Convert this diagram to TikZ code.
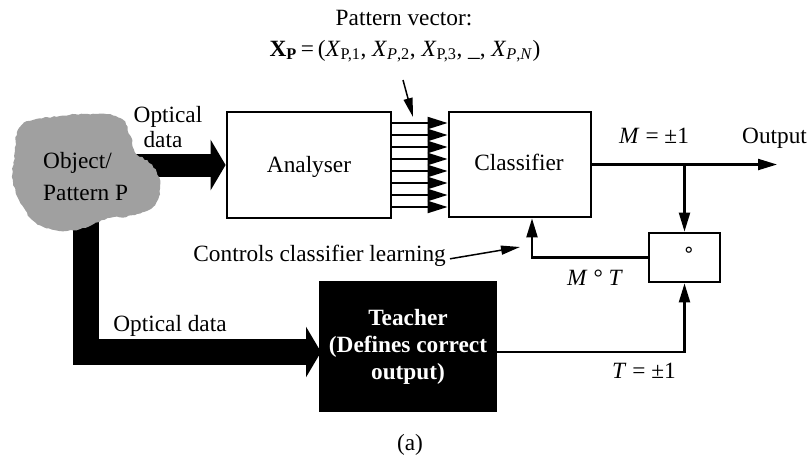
\documentclass[tikz,border=0pt]{standalone}
\usepackage{fontspec}
\setmainfont{Liberation Serif}
\newfontfamily\symfont{DejaVu Sans}
\usetikzlibrary{arrows.meta,decorations.pathmorphing,calc}
\definecolor{blobgray}{RGB}{160,160,160}

\begin{document}
\begin{tikzpicture}[x=1pt,y=-1pt,
  every node/.style={inner sep=0pt,font=\fontsize{23.3pt}{27pt}\selectfont},
  box/.style={draw,line width=2.8pt},
  link/.style={line width=2.2pt,-{Triangle[length=19pt,width=11pt]}},
  slim/.style={line width=1.5pt,-{Triangle[length=19pt,width=9pt]}},
  fat/.style={line join=miter,-{Triangle[length=15pt,width=50pt]}}]
\useasboundingbox (0,0) rectangle (811,459);

% blocks
\node[box,minimum width=164pt,minimum height=106pt] (ana) at (309,165) {};
\node[anchor=base] at (309,172) {Analyser};
\node[box,minimum width=142pt,minimum height=105pt] (cls) at (520,164.5) {};
\node[anchor=base] at (519,170) {Classifier};
\node[box,minimum width=71pt,minimum height=49pt] (op) at (684.5,257.5) {};
\node[font=\symfont\fontsize{20pt}{20pt}\selectfont] (opsym) at (689,252) {∘};
\node[fill=black,minimum width=178pt,minimum height=131pt,text=white,align=center,
      font=\fontsize{23.3pt}{27pt}\selectfont\bfseries] (teach) at (408,346.5)
      {Teacher\\(Defines correct\\output)};

% object / pattern
\coordinate (blobR) at (120,165);
\coordinate (blobB) at (86,205);
\coordinate (teachIn) at (321,352);
\draw[fat,line width=23pt] (blobR) -- (ana.west);
\draw[fat,line width=26pt] (blobB) |- (teachIn);
\pgfmathsetseed{7}
\fill[blobgray,decorate,decoration={random steps,segment length=3pt,amplitude=0.8pt}]
  plot[smooth cycle,tension=0.65] coordinates {
  (30,121) (60,116) (95,114) (120,118) (130,135) (135,152) (152,165) (160,185)
  (155,205) (135,215) (110,218) (99,222) (80,229) (55,230) (35,222) (22,205)
  (13,180) (15,150) (18,130)};
\node[anchor=base west] (obj1) at (43,168) {Object/};
\node[anchor=base west] (obj2) at (43,200) {Pattern P};
\node[anchor=base] (opt1) at (168,122) {Optical};
\node[anchor=base] (opt2) at (163,147) {data};
\node[anchor=base] (opt3) at (170,331) {Optical data};

% pattern vector bus
\foreach \k in {0,...,7}{
  \draw[line width=2pt,-{Triangle[length=20pt,width=12pt]}]
    (ana.east |- 0,123+12*\k) -- (cls.west |- 0,123+12*\k);
}
\node[anchor=base] (pv1) at (404,25) {Pattern vector:};
\node[anchor=base] (pv2) at (405,56)
  {\textbf{X}\textsubscript{\textbf{P}}\,=\,(\textit{X}\textsubscript{P,1}, \textit{X}\textsubscript{\textit{P},2}, \textit{X}\textsubscript{P,3}, \_, \textit{X}\textsubscript{\textit{P},\textit{N}})};
\coordinate (pvTail) at (403,80);
\coordinate (pvTip) at (413,117);
\draw[slim] (pvTail) -- (pvTip);

% output and comparison loop
\coordinate (outTip) at (777,164.5);
\draw[link] (cls.east) -- (outTip);
\node[anchor=base west] (outlbl) at (742,143) {Output};
\node[anchor=base west] (mlbl) at (619,143) {\textit{M} = ±1};
\draw[link] (op.north |- cls.east) -- (op.north);
\coordinate (fbTip) at ($(cls.south)+(12,0)$);
\draw[link] (op.west) -| (fbTip);
\node[anchor=base west] (mtlbl) at (567,285) {\textit{M} ° \textit{T}};
\coordinate (tOut) at (teach.east |- 0,352);
\draw[link] (tOut) -| (op.south);
\node[anchor=base west] (tlbl) at (612,378) {\textit{T} = ±1};

% learning control
\node[anchor=base east] (ctl) at (446,261) {Controls classifier learning};
\coordinate (ctlTip) at (520,247);
\draw[slim] ($(ctl.east)+(4,3.5)$) -- (ctlTip);

\node[anchor=base] (cap) at (410,450) {(a)};
\end{tikzpicture}
\end{document}
